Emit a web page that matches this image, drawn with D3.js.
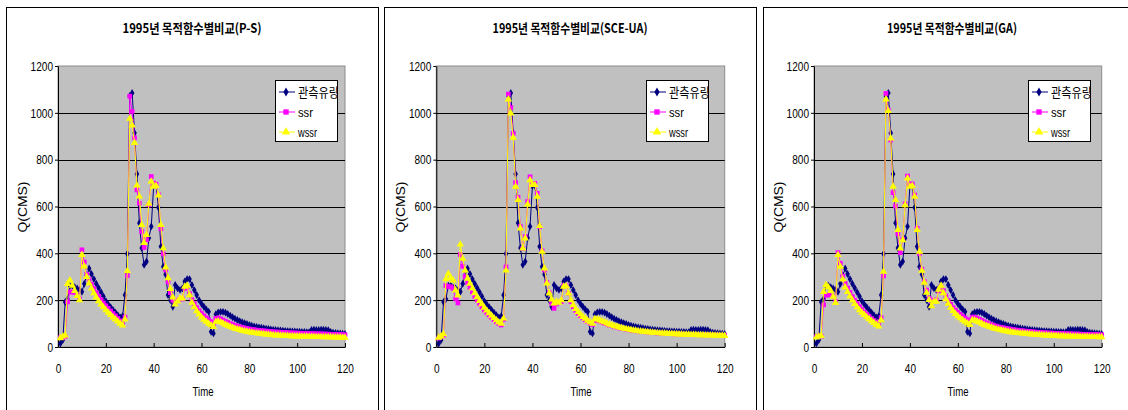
<!DOCTYPE html>
<html>
<head>
<meta charset="utf-8">
<script src="https://cdn.jsdelivr.net/npm/d3@7"></script>
<style>
body { margin: 0; background: #fff; }
svg { display: block; }
</style>
</head>
<body>
<script>
// hourly flow, t = 1..120
const obsFlow = [15,30,192,205,262,262,255,250,243,236,
    270,305,335,312,290,270,252,234,216,196,
    182,170,158,147,136,126,132,222,398,1072,
    1085,914,739,530,423,351,365,465,515,688,
    690,596,429,343,310,222,200,172,265,251,
    244,250,280,290,290,265,243,222,200,185,
    172,160,151,65,58,140,148,150,150,147,
    141,134,127,121,115,110,106,102,98,94,
    91,88,86,84,82,80,78,77,75,74,
    73,72,71,70,69,68,67,66,66,65,
    65,64,64,63,63,73,74,73,73,74,
    74,73,72,64,61,60,59,58,57,56];

const psSsr = [40,40,45,193,235,235,233,222,205,415,
    363,310,288,268,250,232,216,202,188,176,
    165,154,143,133,122,112,102,128,305,1071,
    1006,893,671,614,493,425,458,607,728,700,
    695,650,505,398,329,278,232,200,185,200,
    205,205,250,255,228,202,185,168,155,143,
    133,124,116,108,100,122,124,120,115,110,
    105,100,96,92,89,86,83,81,79,77,
    75,74,72,71,70,69,68,67,66,65,
    64,64,63,62,62,61,61,60,60,59,
    59,58,58,58,57,57,57,56,56,56,
    55,55,55,54,54,54,53,53,53,52];

const psWssr = [38,45,50,270,285,262,240,218,200,394,
    344,300,272,250,230,212,196,182,170,158,
    147,137,127,118,109,100,92,118,325,975,
    947,872,690,643,522,445,479,612,707,685,
    688,648,522,422,340,294,248,212,182,195,
    208,208,258,262,222,190,170,153,139,127,
    117,108,100,93,86,108,110,106,101,96,
    91,87,83,79,76,73,70,68,66,64,
    62,60,59,57,56,55,54,53,52,51,
    50,50,49,49,48,48,47,47,46,46,
    46,45,45,45,44,44,44,43,43,43,
    42,42,42,42,41,41,41,41,40,40];

const sceSsr = [38,44,50,262,258,257,250,205,188,395,
    345,300,275,255,235,216,200,185,171,158,
    146,136,126,117,108,100,94,118,342,1080,
    1023,912,702,639,514,421,471,621,727,699,
    699,656,514,411,329,275,232,186,165,184,
    194,194,262,262,229,194,172,156,143,133,
    124,116,109,102,96,114,113,110,106,102,
    98,94,91,88,85,82,80,78,76,74,
    72,71,69,68,67,66,65,64,63,62,
    61,60,60,59,58,58,57,57,56,56,
    55,55,55,54,54,54,53,53,53,52,
    52,52,52,51,51,51,51,50,50,50];

const sceWssr = [40,46,55,290,313,295,285,242,221,438,
    377,327,292,271,250,230,213,197,183,168,
    156,145,134,124,115,106,100,122,327,1058,
    998,894,685,628,507,421,464,609,713,692,
    692,642,517,407,336,272,229,204,186,194,
    190,200,258,260,229,200,179,163,150,139,
    129,121,113,106,100,120,118,114,110,106,
    101,97,94,90,87,84,82,79,77,75,
    73,71,70,68,67,66,65,64,63,62,
    61,60,59,58,58,57,56,56,55,55,
    54,54,53,53,53,52,52,52,51,51,
    51,50,50,50,50,49,49,49,49,48];

const gaSsr = [44,47,46,180,222,222,228,218,194,403,
    357,303,272,252,233,215,199,185,172,160,
    149,139,130,121,113,106,100,125,303,1083,
    1012,884,659,602,483,403,460,611,730,696,
    696,649,507,400,332,279,243,208,194,200,
    200,240,258,240,218,198,182,168,157,148,
    139,131,124,117,111,128,127,123,118,113,
    108,103,99,95,92,89,86,84,82,80,
    78,76,74,73,71,70,69,68,67,66,
    65,64,63,62,62,61,60,60,59,59,
    58,58,57,57,57,56,56,56,55,55,
    55,54,54,54,53,53,53,53,52,52];

const gaWssr = [41,45,48,236,265,255,240,215,189,393,
    343,289,255,235,216,199,184,170,158,147,
    137,128,119,111,103,96,88,115,322,1058,
    1008,891,685,628,500,421,457,606,720,685,
    688,642,500,407,326,275,232,201,175,194,
    194,245,262,230,205,185,168,154,142,132,
    123,115,108,101,95,115,114,110,105,100,
    95,91,87,84,80,77,75,72,70,68,
    66,64,63,61,60,59,58,57,56,55,
    54,53,52,52,51,50,50,49,49,48,
    48,47,47,47,46,46,46,45,45,45,
    44,44,44,44,43,43,43,43,42,42];

const yTicks = [0, 200, 400, 600, 800, 1000, 1200];
const xTicks = [0, 20, 40, 60, 80, 100, 120];
const titles = ["1995년 목적함수별비교(P-S)", "1995년 목적함수별비교(SCE-UA)", "1995년 목적함수별비교(GA)"];
const seriesNames = ["관측유량", "ssr", "wssr"];

function init() {
    var w = 1128, h = 410;
    var top = 66, bottom = 347;
    var font = "'Liberation Sans', Arial, sans-serif";
    var kfont = "'Noto Sans CJK KR', 'Liberation Sans', sans-serif";

    var panels = [
        {title: titles[0], ssr: psSsr, wssr: psWssr, box: 6, left: 58, right: 345, tx: 192, tw: 139, legX: 275, ylx: 22, xlx: 203},
        {title: titles[1], ssr: sceSsr, wssr: sceWssr, box: 384, left: 436.3, right: 724.7, tx: 570, tw: 155, legX: 646, ylx: 400, xlx: 581},
        {title: titles[2], ssr: gaSsr, wssr: gaWssr, box: 763, left: 814, right: 1101.7, tx: 952, tw: 130, legX: 1028, ylx: 778, xlx: 958}
    ];

    var styles = [
        {color: "#000080", shape: d3.symbolDiamond, size: 18},
        {color: "#ff00ff", shape: d3.symbolSquare, size: 22},
        {color: "#ffff00", shape: d3.symbolTriangle, size: 24}
    ];

    var svg = d3.select("body")
        .append("svg")
        .attr("width", w)
        .attr("height", h);

    panels.forEach(function(p, k) {
        var g = svg.append("g");

        g.append("rect")
            .attr("x", p.box + 0.5).attr("y", 7.5)
            .attr("width", 372).attr("height", 420)
            .attr("fill", "#fff").attr("stroke", "#000");

        var x = d3.scaleLinear().domain([0, 120]).range([p.left, p.right]);
        var y = d3.scaleLinear().domain([0, 1200]).range([bottom, top]);

        g.append("rect")
            .attr("x", p.left).attr("y", top)
            .attr("width", p.right - p.left).attr("height", bottom - top)
            .attr("fill", "#c0c0c0").attr("stroke", "#8c8c8c");

        // gridlines
        g.selectAll(".grid")
            .data(yTicks.filter(function(d) { return d > 0 && d < 1200; }))
            .enter().append("line")
            .attr("x1", p.left).attr("x2", p.right)
            .attr("y1", function(d) { return Math.round(y(d)) + 0.5; })
            .attr("y2", function(d) { return Math.round(y(d)) + 0.5; })
            .attr("stroke", "#000");

        var yAxis = g.append("g")
            .attr("transform", "translate(" + p.left + ",0)")
            .call(d3.axisLeft(y).tickValues(yTicks).tickFormat(d3.format("d"))
                .tickSizeInner(3).tickSizeOuter(0).tickPadding(2));
        var xAxis = g.append("g")
            .attr("transform", "translate(0," + bottom + ")")
            .call(d3.axisBottom(x).tickValues(xTicks).tickFormat(d3.format("d"))
                .tickSizeInner(-4).tickSizeOuter(0).tickPadding(17));

        [yAxis, xAxis].forEach(function(a) {
            a.select(".domain").attr("stroke", "#000");
            a.selectAll("line").attr("stroke", "#000");
            a.selectAll("text")
                .attr("fill", "#000")
                .style("font-family", font)
                .style("font-size", "13px")
                .attr("textLength", function(d) { return String(d).length * 5.6; })
                .attr("lengthAdjust", "spacingAndGlyphs");
        });

        // series
        var all = [obsFlow, p.ssr, p.wssr];
        all.forEach(function(values, s) {
            var st = styles[s];
            var line = d3.line()
                .x(function(d, i) { return x(i + 1); })
                .y(function(d) { return y(d); });
            g.append("path")
                .datum(values)
                .attr("d", line)
                .attr("fill", "none")
                .attr("stroke", st.color)
                .attr("stroke-width", 1);
            g.selectAll(".m" + s)
                .data(values)
                .enter().append("path")
                .attr("transform", function(d, i) { return "translate(" + x(i + 1) + "," + y(d) + ")"; })
                .attr("d", d3.symbol().type(st.shape).size(st.size))
                .attr("fill", st.color);
        });

        // title
        g.append("text")
            .attr("x", p.tx).attr("y", 33)
            .attr("text-anchor", "middle")
            .attr("textLength", p.tw).attr("lengthAdjust", "spacingAndGlyphs")
            .style("font-family", kfont).style("font-size", "13px").style("font-weight", "bold")
            .text(p.title);

        g.append("text")
            .attr("transform", "translate(" + p.ylx + ",207) rotate(-90)")
            .attr("text-anchor", "middle").attr("dy", "0.35em")
            .attr("textLength", 51).attr("lengthAdjust", "spacingAndGlyphs")
            .style("font-family", font).style("font-size", "13px")
            .text("Q(CMS)");

        g.append("text")
            .attr("x", p.xlx).attr("y", 396)
            .attr("text-anchor", "middle")
            .attr("textLength", 21).attr("lengthAdjust", "spacingAndGlyphs")
            .style("font-family", font).style("font-size", "13px")
            .text("Time");

        // legend (clip box in the legend's own coordinates)
        svg.append("clipPath").attr("id", "legclip" + k)
            .append("rect").attr("x", 0).attr("y", 0).attr("width", 63).attr("height", 62);
        var lg = g.append("g")
            .attr("transform", "translate(" + p.legX + ",80)")
            .attr("clip-path", "url(#legclip" + k + ")");
        lg.append("rect")
            .attr("x", 0.5).attr("y", 0.5).attr("width", 62).attr("height", 61)
            .attr("fill", "#fff").attr("stroke", "#000");
        var items = lg.selectAll(".item")
            .data(seriesNames)
            .enter().append("g")
            .attr("transform", function(d, i) { return "translate(0," + [12, 32, 52][i] + ")"; });
        items.append("line")
            .attr("x1", 4).attr("x2", 20)
            .attr("stroke", function(d, i) { return styles[i].color; });
        items.append("path")
            .attr("transform", "translate(11,0)")
            .attr("d", function(d, i) { return d3.symbol().type(styles[i].shape).size(styles[i].size * 1.3)(); })
            .attr("fill", function(d, i) { return styles[i].color; });
        items.append("text")
            .attr("x", 23).attr("dy", "0.35em")
            .attr("textLength", function(d, i) { return [41, 15, 19][i]; })
            .attr("lengthAdjust", "spacingAndGlyphs")
            .style("font-family", function(d, i) { return i == 0 ? kfont : font; })
            .style("font-size", "13px")
            .text(function(d) { return d; });
        // box outline on top so the clipped label sits inside it
        lg.append("rect")
            .attr("x", 0.5).attr("y", 0.5).attr("width", 62).attr("height", 61)
            .attr("fill", "none").attr("stroke", "#000");
    });
}
window.onload = init;
</script>
</body>
</html>
